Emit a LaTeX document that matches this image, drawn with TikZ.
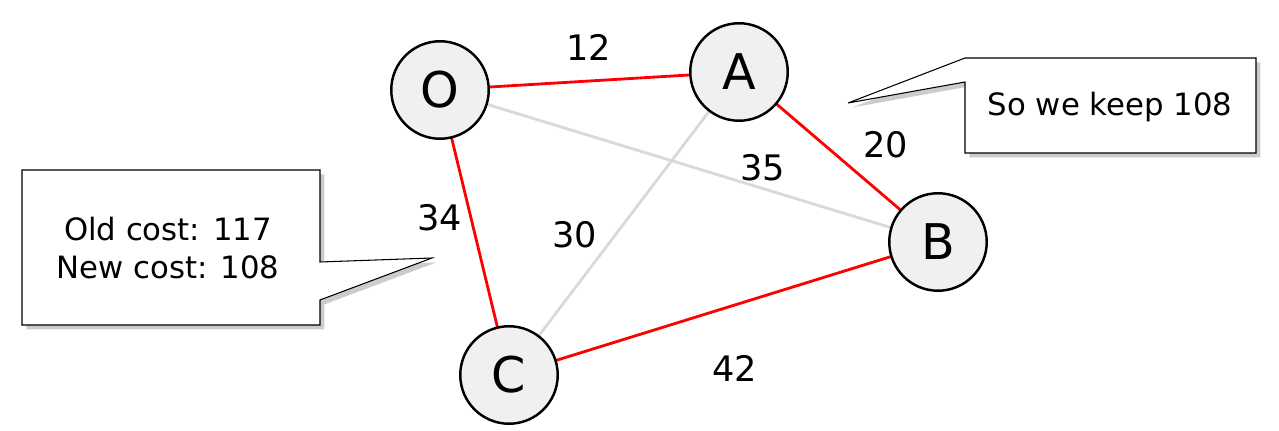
\documentclass[tikz,border=0pt]{standalone}
\usepackage{fontspec}
\setmainfont{DejaVu Sans}
\usetikzlibrary{shadows}

\begin{document}
\begin{tikzpicture}[x=0.02cm, y=-0.02cm,
	city/.style={draw, circle, fill=gray!12, line width=1.4pt, minimum size=1.95cm, inner sep=0pt, font=\fontsize{28}{30}\selectfont},
	used/.style={red, line width=1.6pt},
	unused/.style={gray!30, line width=1.6pt},
	cost/.style={font=\fontsize{20}{22}\selectfont},
	callout/.style={draw, fill=white, line width=0.6pt, drop shadow={shadow xshift=2.5pt, shadow yshift=-2.5pt, fill=gray!80}}]
	\useasboundingbox (0,0) rectangle (1279,431);

	% callouts
	\draw[callout] (965,58) -- (1256,58) -- (1256,153) -- (965,153) -- (965,82) -- (848,103) -- cycle;
	\node[font=\fontsize{17.5}{20}\selectfont] (keep) at (1110,107) {So we keep 108};
	\draw[callout] (22,170) -- (320,170) -- (320,262) -- (432,258) -- (320,300) -- (320,325) -- (22,325) -- cycle;
	\node[align=center, font=\fontsize{17.5}{22}\selectfont] (total) at (168,248) {Old cost: 117\\New cost: 108};

	% edges first, nodes on top
	\coordinate (o) at (440,90);
	\coordinate (a) at (739,72);
	\coordinate (b) at (938,242);
	\coordinate (c) at (509,375);
	\draw[unused] (o) -- (b);
	\draw[unused] (a) -- (c);
	\draw[used] (o) -- (a);
	\draw[used] (a) -- (b);
	\draw[used] (o) -- (c);
	\draw[used] (c) -- (b);

	\node[city] (O) at (o) {O};
	\node[city] (A) at (a) {A};
	\node[city] (B) at (b) {B};
	\node[city] (C) at (c) {C};

	\node[cost] (oa) at (589,47) {12};
	\node[cost] (ab) at (886,145) {20};
	\node[cost] (ob) at (763,168) {35};
	\node[cost] (oc) at (440,218) {34};
	\node[cost] (ac) at (575,235) {30};
	\node[cost] (cb) at (735,368) {42};
\end{tikzpicture}
\end{document}
